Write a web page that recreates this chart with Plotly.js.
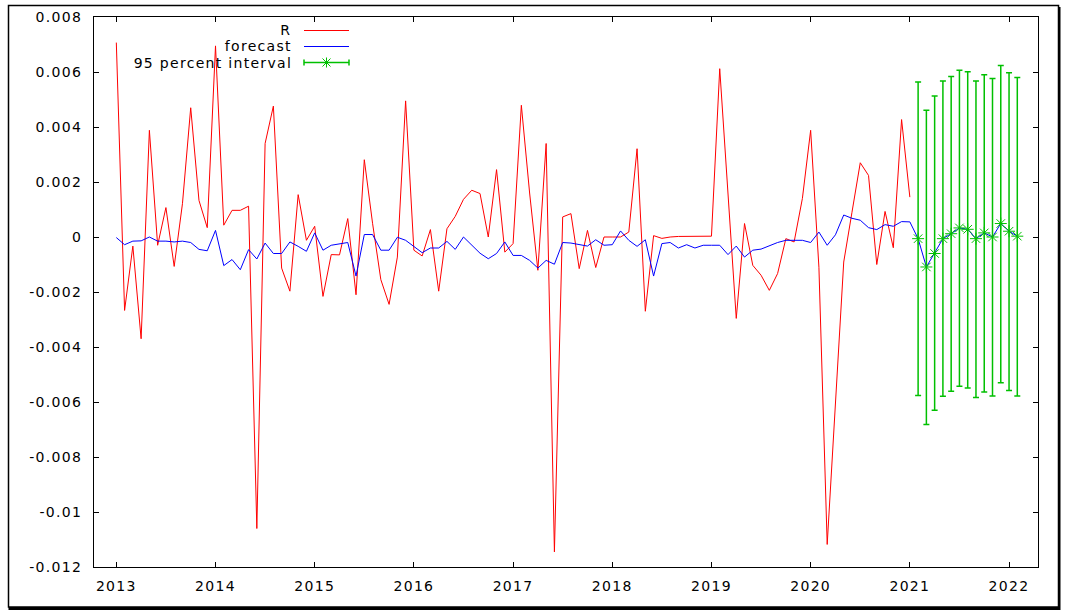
<!DOCTYPE html>
<html>
<head>
<meta charset="utf-8">
<script src="https://cdn.plot.ly/plotly-3.0.1.min.js"></script>
<style>
html,body{margin:0;padding:0;background:#fff;}
#chart{width:1065px;height:612px;}
#chart text{letter-spacing:1.3px;}
</style>
</head>
<body>
<div id="chart"></div>
<script>
// Monthly series starting 2013:01
const startYear = 2013;
const startMonth = 1;

// Actual R (2013:01 - 2021:01)
const actualR = [
  0.00707, -0.00267, -0.00033, -0.0037, 0.00388, -0.0003, 0.00107, -0.00107, 0.00121, 0.0047, 0.00133, 0.00034,
  0.00695, 0.00043, 0.00097, 0.00097, 0.00112, -0.0106, 0.0034, 0.00476, -0.00113, -0.00197, 0.00154, -0.00012,
  0.00039, -0.00216, -0.00064, -0.00065, 0.00067, -0.0021, 0.00281, 0.0005, -0.00155, -0.00245, -0.00073, 0.00495,
  -0.00048, -0.00069, 0.00027, -0.00197, 0.0003, 0.00075, 0.00137, 0.0017, 0.00158, 0.0, 0.00245, -0.00055,
  -0.00024, 0.00479, 0.0016, -0.00121, 0.0034, -0.01145, 0.00073, 0.00085, -0.00115, 0.00024, -0.00111, 0.0,
  0.0, 0.0, 0.00018, 0.00321, -0.0027, 0.00005, -0.00005, 0.0, 0.00002, 0.00002, 0.00002, 0.00003,
  0.00003, 0.00612, 0.0015, -0.00296, 0.00049, -0.00103, -0.00139, -0.00194, -0.00133, -0.00006, -0.00018, 0.0014,
  0.00388, -0.0011, -0.01118, -0.006, -0.00091, 0.0009, 0.0027, 0.00224, -0.001, 0.00093, -0.00039, 0.00427,
  0.00145
];

// Fitted values (2013:01 - 2021:01)
const fitted = [
  -0.00002, -0.00028, -0.00015, -0.00014, 0.0, -0.00015, -0.00015, -0.00018, -0.00015, -0.0002, -0.00045, -0.0005,
  0.00024, -0.00104, -0.00082, -0.00119, -0.00046, -0.0008, -0.00022, -0.0006, -0.0006, -0.00018, -0.00034, -0.00052,
  0.00015, -0.00048, -0.0003, -0.00024, -0.0002, -0.00142, 0.00009, 0.00009, -0.00048, -0.00048, -0.00001, -0.00012,
  -0.00033, -0.00057, -0.0004, -0.0004, -0.00016, -0.00045, 0.0, -0.00028, -0.00059, -0.00079, -0.0006, -0.00018,
  -0.00067, -0.00067, -0.00085, -0.00113, -0.00085, -0.00099, -0.0002, -0.00022, -0.00028, -0.00033, -0.0001, -0.0003,
  -0.00028, 0.00022, -0.00012, -0.00034, -0.0001, -0.00142, -0.00024, -0.0002, -0.0004, -0.00028, -0.0004, -0.0003,
  -0.0003, -0.0003, -0.00064, -0.00033, -0.00073, -0.00048, -0.00044, -0.00033, -0.0002, -0.00012, -0.00012, -0.00012,
  -0.0002, 0.00018, -0.0003, 0.00008, 0.0008, 0.00068, 0.00061, 0.00034, 0.00027, 0.00045, 0.00039, 0.00056,
  0.00055
];

// Out-of-sample forecast 2021:02 - 2022:02
const fcCenter = [-0.00006, -0.00109, -0.0006, -0.00006, 0.00012, 0.00033, 0.00028, -0.00006, 0.00015, 0.0, 0.00049, 0.00021, 0.00003];
const fcUpper  = [0.00564, 0.00461, 0.00513, 0.00567, 0.00584, 0.00606, 0.00601, 0.00567, 0.0059, 0.00576, 0.00624, 0.00597, 0.0058];
const fcLower  = [-0.00576, -0.00682, -0.0063, -0.00579, -0.00561, -0.00543, -0.00549, -0.00584, -0.00564, -0.00578, -0.0053, -0.00558, -0.00578];

const yTickVals = [0.008, 0.006, 0.004, 0.002, 0, -0.002, -0.004, -0.006, -0.008, -0.01, -0.012];
const yTickText = ["0.008", "0.006", "0.004", "0.002", "0", "-0.002", "-0.004", "-0.006", "-0.008", "-0.01", "-0.012"];
const xTickVals = [2013, 2014, 2015, 2016, 2017, 2018, 2019, 2020, 2021, 2022];
const xTickText = ["2013", "2014", "2015", "2016", "2017", "2018", "2019", "2020", "2021", "2022"];

const legendLabels = ["R", "forecast", "95 percent interval"];

const RED = '#ff0000', BLUE = '#0000ff', GREEN = '#00c000';
const LETTER_SPACING = 1.3;

function monthX(i) { return startYear + (startMonth - 1 + i) / 12; }

const xActual = actualR.map((_, i) => monthX(i));
const xFc = fcCenter.map((_, i) => monthX(actualR.length + i));
const blueY = fitted.concat(fcCenter);
const xBlue = blueY.map((_, i) => monthX(i));

const traces = [
  {x: xActual, y: actualR, type: 'scatter', mode: 'lines', line: {color: RED, width: 1}, hoverinfo: 'skip'},
  {x: xBlue, y: blueY, type: 'scatter', mode: 'lines', line: {color: BLUE, width: 1}, hoverinfo: 'skip'},
  {x: xFc, y: fcCenter, type: 'scatter', mode: 'markers',
   marker: {symbol: 'asterisk-open', size: 10, color: GREEN, line: {color: GREEN, width: 1}},
   error_y: {type: 'data', symmetric: false,
     array: fcUpper.map((u, i) => u - fcCenter[i]),
     arrayminus: fcLower.map((l, i) => fcCenter[i] - l),
     color: GREEN, thickness: 1.5, width: 3},
   hoverinfo: 'skip'}
];

// pixel helpers for the legend/frame (plot area 94..1038 x 17..567)
const L = 94, R = 1038, T = 17, B = 567;
const px = v => (v - L) / (R - L);
const py = v => (B - v) / (B - T);

const legendRows = [30.5, 46.5, 62.5];
const legendColors = [RED, BLUE, GREEN];
const annotations = legendLabels.map((t, i) => ({
  text: t, xref: 'paper', yref: 'paper', x: px(294), y: py(legendRows[i]),
  xanchor: 'right', yanchor: 'middle', showarrow: false,
  xshift: -t.length * LETTER_SPACING / 2,
  font: {family: 'DejaVu Sans', size: 14, color: '#000'}
}));

const shapes = [];
legendRows.forEach((r, i) => {
  shapes.push({type: 'line', xref: 'paper', yref: 'paper', x0: px(304), x1: px(349), y0: py(r), y1: py(r),
    line: {color: legendColors[i], width: i === 2 ? 1.5 : 1}});
});
// error bar caps and star in legend sample
const gr = legendRows[2];
[304, 349].forEach(xx => shapes.push({type: 'line', xref: 'paper', yref: 'paper', x0: px(xx), x1: px(xx), y0: py(gr - 3), y1: py(gr + 3), line: {color: GREEN, width: 1.5}}));
shapes.push({type: 'line', xref: 'paper', yref: 'paper', x0: px(326.5), x1: px(326.5), y0: py(gr - 5), y1: py(gr + 5), line: {color: GREEN, width: 1}});
shapes.push({type: 'line', xref: 'paper', yref: 'paper', x0: px(322.5), x1: px(330.5), y0: py(gr - 4), y1: py(gr + 4), line: {color: GREEN, width: 1}});
shapes.push({type: 'line', xref: 'paper', yref: 'paper', x0: px(322.5), x1: px(330.5), y0: py(gr + 4), y1: py(gr - 4), line: {color: GREEN, width: 1}});
// outer frame
shapes.push({type: 'rect', xref: 'paper', yref: 'paper', x0: px(8.5), x1: px(1058.5), y0: py(607), y1: py(5.5), line: {color: '#000', width: 1.5}, layer: 'below'});
shapes.push({type: 'line', xref: 'paper', yref: 'paper', x0: px(8.5), x1: px(1060), y0: py(608.5), y1: py(608.5), line: {color: '#000', width: 3}});
shapes.push({type: 'line', xref: 'paper', yref: 'paper', x0: px(1059.5), x1: px(1059.5), y0: py(7), y1: py(610), line: {color: '#000', width: 2}});

const axisFont = {family: 'DejaVu Sans', size: 14, color: '#000'};

const layout = {
  width: 1065, height: 612,
  margin: {l: L, r: 1065 - R, t: T, b: 612 - B, pad: 0},
  paper_bgcolor: '#fff', plot_bgcolor: '#fff',
  showlegend: false,
  xaxis: {
    range: [2012.775, 2022.292], showgrid: false, zeroline: false,
    showline: true, linecolor: '#000', linewidth: 1, mirror: 'allticks',
    ticks: 'inside', ticklen: 5, tickcolor: '#000', tickwidth: 1,
    tickmode: 'array', tickvals: xTickVals, ticktext: xTickText,
    tickfont: axisFont, ticklabelstandoff: 6
  },
  yaxis: {
    range: [-0.012, 0.008], showgrid: false, zeroline: false,
    showline: true, linecolor: '#000', linewidth: 1, mirror: 'allticks',
    ticks: 'inside', ticklen: 5, tickcolor: '#000', tickwidth: 1,
    tickmode: 'array', tickvals: yTickVals, ticktext: yTickText,
    tickfont: axisFont, ticklabelstandoff: 8
  },
  annotations: annotations,
  shapes: shapes
};

Plotly.newPlot('chart', traces, layout, {staticPlot: true, displayModeBar: false});
</script>
</body>
</html>
